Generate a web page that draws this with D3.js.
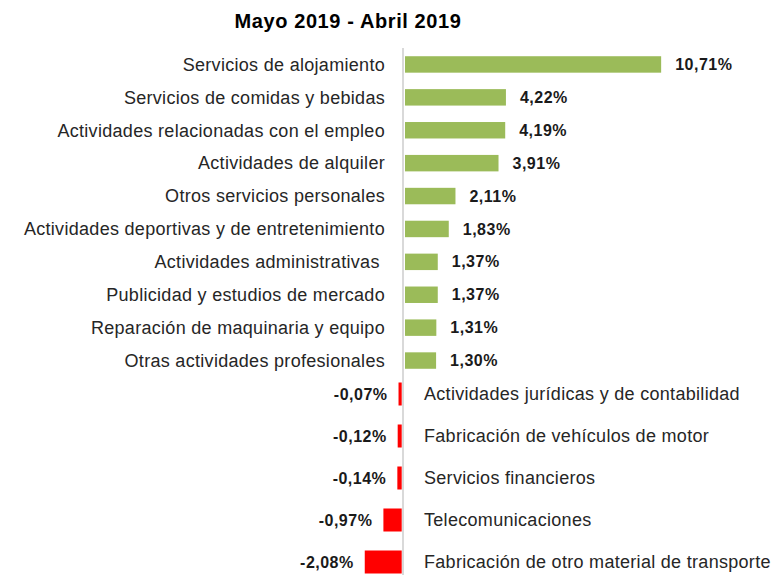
<!DOCTYPE html>
<html>
<head>
<meta charset="utf-8">
<script src="https://cdn.jsdelivr.net/npm/d3@7"></script>
<style>
  html, body { margin: 0; padding: 0; background: #fff; }
  svg { display: block; }
  .cat { font-family: "Liberation Sans", Arial, sans-serif; font-size: 18px; letter-spacing: 0.3px; fill: #262626; white-space: pre; }
  .val { font-family: "Liberation Sans", Arial, sans-serif; font-size: 16px; font-weight: bold; letter-spacing: 0.5px; fill: #1a1a1a; }
  .title { font-family: "Liberation Sans", Arial, sans-serif; font-size: 20px; font-weight: bold; letter-spacing: 0.6px; fill: #000; }
</style>
</head>
<body>
<svg id="chart"></svg>
<script>
  'use strict';

  // sectores con variación positiva
  var posCategories = [
    'Servicios de alojamiento',
    'Servicios de comidas y bebidas',
    'Actividades relacionadas con el empleo',
    'Actividades de alquiler',
    'Otros servicios personales',
    'Actividades deportivas y de entretenimiento',
    'Actividades administrativas ',
    'Publicidad y estudios de mercado',
    'Reparación de maquinaria y equipo',
    'Otras actividades profesionales'
  ];
  var posValues = [10.71, 4.22, 4.19, 3.91, 2.11, 1.83, 1.37, 1.37, 1.31, 1.30];

  // sectores con variación negativa
  var negCategories = [
    'Actividades jurídicas y de contabilidad',
    'Fabricación de vehículos de motor',
    'Servicios financieros',
    'Telecomunicaciones',
    'Fabricación de otro material de transporte'
  ];
  var negValues = [-0.07, -0.12, -0.14, -0.97, -2.08];

  var width = 776;
  var height = 575;

  var svg = d3.select('#chart').attr('width', width).attr('height', height);

  var fmt = function(v) {
    return d3.format('.2f')(v).replace('.', ',').replace('\u2212', '-') + '%';
  };

  var xPos = d3.scaleLinear().domain([0, 12]).range([405, 692]);
  var xNeg = d3.scaleLinear().domain([-2.5, 0]).range([358.7, 400.7]);

  var yPos = d3.scaleBand().domain(posCategories).range([48, 377]).paddingInner(0.5).paddingOuter(0.25);
  var yNeg = d3.scaleBand().domain(negCategories).range([373, 583]).paddingInner(0.5).paddingOuter(0.25);

  var pos = posCategories.map(function(c, i) { return {cat: c, v: posValues[i]}; });
  var neg = negCategories.map(function(c, i) { return {cat: c, v: negValues[i]}; });

  svg.append('text')
    .attr('class', 'title')
    .attr('x', 348)
    .attr('y', 28)
    .attr('text-anchor', 'middle')
    .text('Mayo 2019 - Abril 2019');

  // eje vertical
  svg.append('line')
    .attr('x1', 403).attr('x2', 403)
    .attr('y1', 48).attr('y2', height)
    .attr('stroke', '#d9d9d9')
    .attr('stroke-width', 2);

  var gPos = svg.append('g');

  gPos.selectAll('rect')
    .data(pos)
    .enter().append('rect')
    .attr('x', xPos(0))
    .attr('y', function(d) { return yPos(d.cat); })
    .attr('width', function(d) { return xPos(d.v) - xPos(0); })
    .attr('height', yPos.bandwidth())
    .attr('fill', '#9bbb59');

  gPos.selectAll('text.cat')
    .data(pos)
    .enter().append('text')
    .attr('class', 'cat')
    .attr('x', 385)
    .attr('y', function(d) { return yPos(d.cat) + yPos.bandwidth() / 2; })
    .attr('dy', '0.35em')
    .attr('text-anchor', 'end')
    .text(function(d) { return d.cat; });

  gPos.selectAll('text.val')
    .data(pos)
    .enter().append('text')
    .attr('class', 'val')
    .attr('x', function(d) { return xPos(d.v) + 14; })
    .attr('y', function(d) { return yPos(d.cat) + yPos.bandwidth() / 2; })
    .attr('dy', '0.35em')
    .text(function(d) { return fmt(d.v); });

  var gNeg = svg.append('g');

  gNeg.selectAll('rect')
    .data(neg)
    .enter().append('rect')
    .attr('x', function(d) { return xNeg(d.v); })
    .attr('y', function(d) { return yNeg(d.cat); })
    .attr('width', function(d) { return xNeg(0) - xNeg(d.v); })
    .attr('height', yNeg.bandwidth())
    .attr('fill', '#ff0000')
    .attr('stroke', '#ff0000')
    .attr('stroke-width', 2);

  gNeg.selectAll('text.cat')
    .data(neg)
    .enter().append('text')
    .attr('class', 'cat')
    .attr('x', 424)
    .attr('y', function(d) { return yNeg(d.cat) + yNeg.bandwidth() / 2; })
    .attr('dy', '0.35em')
    .text(function(d) { return d.cat; });

  gNeg.selectAll('text.val')
    .data(neg)
    .enter().append('text')
    .attr('class', 'val')
    .attr('x', function(d) { return xNeg(d.v) - 12; })
    .attr('y', function(d) { return yNeg(d.cat) + yNeg.bandwidth() / 2; })
    .attr('dy', '0.35em')
    .attr('text-anchor', 'end')
    .text(function(d) { return fmt(d.v); });
</script>
</body>
</html>
